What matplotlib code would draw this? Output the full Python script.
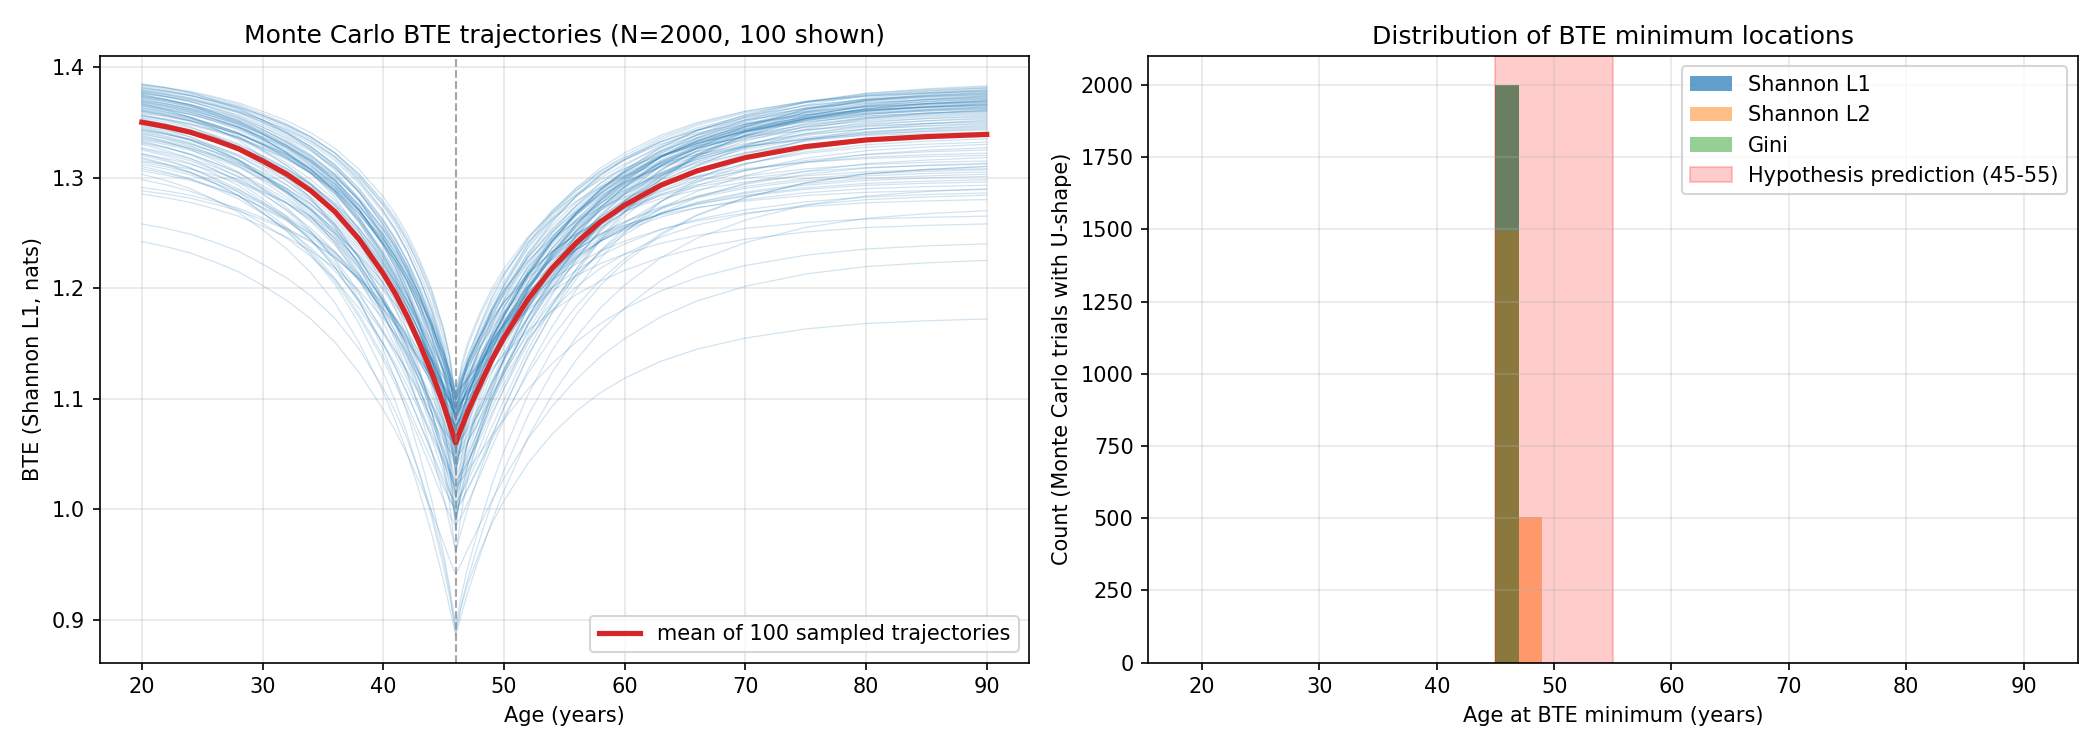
from matplotlib import pyplot as plt
import numpy as np


# mean trajectory (age, BTE)
AGES = [20, 22, 24, 26, 28, 30, 32, 34, 36, 38, 40, 41, 42, 43, 44, 45, 45.5, 46,
        46.5, 47, 48, 49, 50, 52, 54, 56, 58, 60, 63, 66, 70, 75, 80, 85, 90]
MEAN_BTE = [1.350, 1.346, 1.341, 1.334, 1.326, 1.315, 1.303, 1.288, 1.269, 1.244,
            1.213, 1.195, 1.174, 1.150, 1.124, 1.094, 1.077, 1.060,
            1.074, 1.088, 1.112, 1.135, 1.155, 1.190, 1.218, 1.241, 1.260, 1.275,
            1.293, 1.306, 1.318, 1.328, 1.334, 1.337, 1.339]
MIN_AGE = 46

# per trajectory: BTE at age 20, at the minimum, at age 90, and how sharp the dip is
START = [
    1.372, 1.341, 1.381, 1.318, 1.356, 1.367, 1.291, 1.349, 1.376, 1.333,
    1.363, 1.384, 1.325, 1.352, 1.370, 1.306, 1.345, 1.379, 1.338, 1.360,
    1.374, 1.330, 1.358, 1.242, 1.366, 1.343, 1.382, 1.314, 1.353, 1.369,
    1.336, 1.377, 1.321, 1.361, 1.348, 1.385, 1.310, 1.364, 1.340, 1.373,
    1.355, 1.288, 1.371, 1.332, 1.380, 1.347, 1.365, 1.317, 1.378, 1.351,
    1.362, 1.327, 1.375, 1.339, 1.368, 1.258, 1.357, 1.383, 1.312, 1.344,
    1.370, 1.334, 1.376, 1.354, 1.303, 1.366, 1.342, 1.381, 1.322, 1.359,
    1.373, 1.350, 1.285, 1.367, 1.337, 1.378, 1.346, 1.308, 1.363, 1.379,
    1.331, 1.372, 1.356, 1.320, 1.369, 1.335, 1.374, 1.298, 1.361, 1.349,
    1.384, 1.326, 1.365, 1.343, 1.377, 1.315, 1.360, 1.352, 1.375, 1.368,
]
LOW = [
    1.090, 1.038, 1.079, 0.985, 1.109, 1.050, 1.074, 1.003, 1.097, 1.026,
    1.063, 1.096, 0.998, 1.082, 1.052, 1.100, 1.017, 1.087, 0.895, 1.066,
    1.046, 1.006, 1.103, 0.941, 1.070, 1.086, 1.033, 1.092, 1.015, 1.078,
    1.075, 1.010, 1.107, 1.040, 1.084, 0.980, 1.060, 1.099, 1.024, 1.089,
    1.097, 1.071, 0.988, 1.049, 1.102, 1.028, 1.081, 0.892, 1.056, 1.094,
    1.053, 1.076, 0.958, 1.093, 1.034, 0.887, 0.993, 1.067, 1.088, 1.019,
    1.079, 1.091, 1.062, 1.073, 0.886, 1.099, 1.043, 1.083, 1.001, 1.105,
    1.030, 1.101, 1.055, 0.962, 1.088, 1.064, 1.012, 1.095, 1.041, 1.072,
    1.077, 1.036, 1.098, 1.047, 0.995, 1.091, 1.068, 1.021, 1.106, 1.083,
    1.080, 1.058, 0.990, 1.104, 1.044, 1.085, 1.085, 1.061, 1.008, 1.093,
]
END = [
    1.372, 1.318, 1.365, 1.352, 1.379, 1.301, 1.344, 1.370, 1.289, 1.361,
    1.376, 1.341, 1.310, 1.366, 1.355, 1.383, 1.327, 1.368, 1.310, 1.349,
    1.363, 1.374, 1.296, 1.225, 1.358, 1.381, 1.322, 1.369, 1.347, 1.305,
    1.377, 1.362, 1.335, 1.371, 1.258, 1.353, 1.380, 1.315, 1.367, 1.343,
    1.360, 1.375, 1.284, 1.364, 1.350, 1.373, 1.307, 1.290, 1.378, 1.357,
    1.369, 1.330, 1.366, 1.382, 1.345, 1.172, 1.371, 1.312, 1.361, 1.376,
    1.338, 1.367, 1.293, 1.374, 1.270, 1.364, 1.356, 1.320, 1.379, 1.348,
    1.362, 1.303, 1.373, 1.340, 1.368, 1.265, 1.377, 1.354, 1.325, 1.365,
    1.381, 1.346, 1.298, 1.370, 1.359, 1.313, 1.375, 1.240, 1.363, 1.351,
    1.308, 1.372, 1.366, 1.286, 1.378, 1.337, 1.360, 1.369, 1.332, 1.280,
]
SHARP = [
    0.85, 1.10, 0.72, 1.25, 0.95, 0.80, 1.05, 1.15, 0.70, 1.30,
    0.90, 0.68, 1.20, 1.00, 0.78, 1.35, 1.08, 0.75, 0.90, 0.98,
    0.82, 1.28, 0.88, 1.10, 0.93, 1.12, 0.70, 1.40, 1.02, 0.86,
    1.18, 0.74, 1.32, 0.96, 1.06, 0.66, 1.45, 0.84, 1.14, 0.79,
    0.92, 1.00, 0.76, 1.22, 0.71, 1.04, 0.89, 0.95, 0.73, 1.09,
    0.87, 1.26, 0.77, 1.16, 0.83, 0.80, 0.97, 0.69, 1.38, 1.03,
    0.81, 1.24, 0.74, 1.01, 1.00, 0.91, 1.13, 0.67, 1.33, 0.94,
    0.78, 1.07, 1.05, 0.99, 1.19, 0.72, 1.11, 1.42, 0.85, 0.76,
    1.27, 0.80, 0.93, 1.36, 0.75, 1.15, 0.82, 1.20, 0.97, 1.06,
    0.70, 1.30, 0.88, 1.12, 0.77, 1.02, 0.90, 0.99, 0.79, 0.86,
]

# histogram of minimum locations (left bin edge -> count), bins 2 years wide
HIST_BINS = list(range(19, 93, 2))
L1_BIN_LEFT = [45]
L1_COUNTS = [2000]
L2_BIN_LEFT = [45, 47]
L2_COUNTS = [1495, 505]
GINI_BIN_LEFT = [45]
GINI_COUNTS = [2000]
HYPOTHESIS = (45, 55)


ages = np.array(AGES)
mean = np.array(MEAN_BTE)
m0 = mean[ages == MIN_AGE][0]
shape_left = (mean - m0) / (mean[0] - m0)
shape_right = (mean - m0) / (mean[-1] - m0)

fig, (ax1, ax2) = plt.subplots(1, 2, figsize=(14, 5))

for s, lo, e, p in zip(START, LOW, END, SHARP):
    traj = np.where(ages <= MIN_AGE,
                    lo + (s - lo) * shape_left ** p,
                    lo + (e - lo) * shape_right ** p)
    ax1.plot(ages, traj, color='tab:blue', lw=0.6, alpha=0.2)
ax1.plot(ages, mean, color='tab:red', lw=2.5, label='mean of 100 sampled trajectories')
ax1.axvline(MIN_AGE, color='gray', ls='--', lw=1, alpha=0.7)
ax1.set_xlabel('Age (years)')
ax1.set_ylabel('BTE (Shannon L1, nats)')
ax1.set_title('Monte Carlo BTE trajectories (N=2000, 100 shown)', fontsize=12)
ax1.legend(loc='lower right')
ax1.grid(alpha=0.3)

for left, counts, alpha, color, label in [
    (L1_BIN_LEFT, L1_COUNTS, 0.7, 'tab:blue', 'Shannon L1'),
    (L2_BIN_LEFT, L2_COUNTS, 0.5, 'tab:orange', 'Shannon L2'),
    (GINI_BIN_LEFT, GINI_COUNTS, 0.5, 'tab:green', 'Gini'),
]:
    ax2.hist(np.array(left) + 1, bins=HIST_BINS, weights=counts, alpha=alpha, color=color, label=label)
ax2.axvspan(*HYPOTHESIS, color='red', alpha=0.2, label='Hypothesis prediction (45-55)')
ax2.set_xlabel('Age at BTE minimum (years)')
ax2.set_ylabel('Count (Monte Carlo trials with U-shape)')
ax2.set_title('Distribution of BTE minimum locations', fontsize=12)
ax2.legend(loc='upper right')
ax2.grid(alpha=0.3)

plt.tight_layout()
plt.savefig('out.png', dpi=150)
